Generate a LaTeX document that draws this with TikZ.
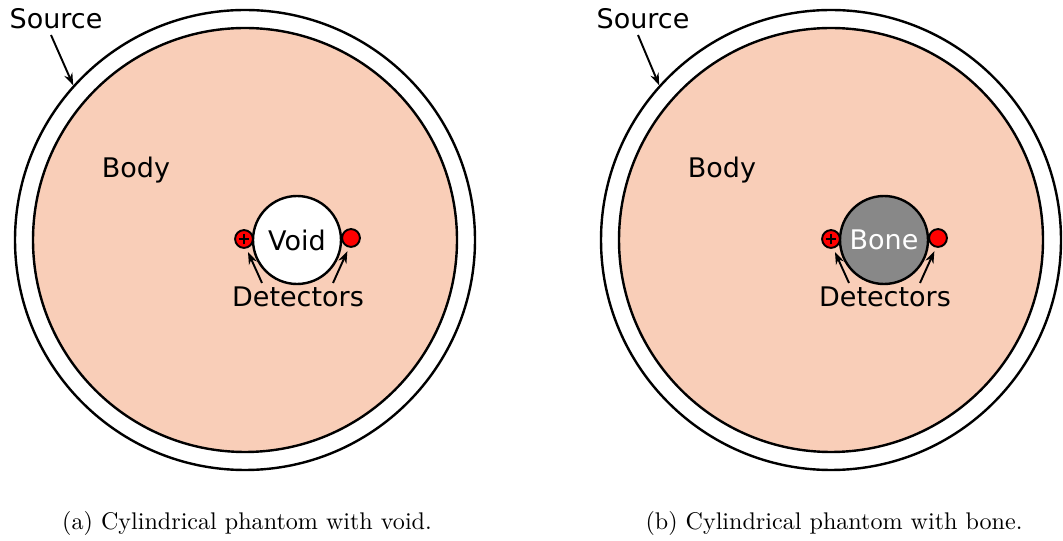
\documentclass[tikz,border=0pt]{standalone}
\usepackage{fontspec}
\newfontfamily\labelfont{DejaVu Sans}
\usetikzlibrary{arrows.meta,calc}
\definecolor{tissue}{RGB}{249,206,184}
\definecolor{bonegray}{RGB}{136,136,136}
\definecolor{detred}{RGB}{255,0,0}
\tikzset{
  ring/.style={circle,draw=black,line width=1pt,inner sep=0pt},
  detector/.style={circle,draw=black,fill=detred,line width=0.8pt,inner sep=0pt,minimum size=7.4pt},
  lbl/.style={font=\labelfont\fontsize{11.2}{13}\selectfont,inner sep=0pt},
  captext/.style={font=\fontsize{10}{12}\selectfont,inner sep=0pt},
  pointer/.style={-{Stealth[length=5pt,width=3.6pt]},line width=0.8pt},
}
\begin{document}
\begin{tikzpicture}[x=0.415pt,y=-0.415pt]
\useasboundingbox (0,0) rectangle (1063,541);

% ---- (a) phantom with a void ----
\node[ring,minimum size={460*0.415pt}] (srcA) at (245,240) {};
\node[ring,fill=tissue,minimum size={424*0.415pt}] (bodyA) at (245,240) {};
\node[ring,fill=white,minimum size={88*0.415pt},lbl] (voidA) at (297,240) {Void};
\node[detector] (dLA) at (244,239) {};
\node[detector] (dRA) at (351,238) {};
\draw[line width=0.6pt] ($(dLA)+(-2.2pt,0)$) -- ($(dLA)+(2.2pt,0)$)
      ($(dLA)+(0,-2.2pt)$) -- ($(dLA)+(0,2.2pt)$);
\node[lbl] (srcLblA) at (56,19) {Source};
\node[lbl] (bodyLblA) at (136,170) {Body};
\node[lbl] (detLblA) at (298,297) {Detectors};
\coordinate (tLA) at (262,283);
\coordinate (tRA) at (333,283);
\coordinate (tSA) at (51,35);
\draw[pointer] (tSA) -- (srcA.138);
\draw[pointer,shorten >=1.6pt] (tLA) -- (dLA.-76);
\draw[pointer,shorten >=1.6pt] (tRA) -- (dRA.-102);
\node[captext] (capA) at (247,523) {(a) Cylindrical phantom with void.};

% ---- (b) phantom with a bone ----
\node[ring,minimum size={460*0.415pt}] (srcB) at (831,240) {};
\node[ring,fill=tissue,minimum size={424*0.415pt}] (bodyB) at (831,240) {};
\node[ring,fill=bonegray,minimum size={88*0.415pt},lbl,text=white] (boneB) at (884,240) {Bone};
\node[detector] (dLB) at (831,239) {};
\node[detector] (dRB) at (938,238) {};
\draw[line width=0.6pt] ($(dLB)+(-2.2pt,0)$) -- ($(dLB)+(2.2pt,0)$)
      ($(dLB)+(0,-2.2pt)$) -- ($(dLB)+(0,2.2pt)$);
\node[lbl] (srcLblB) at (643,19) {Source};
\node[lbl] (bodyLblB) at (722,170) {Body};
\node[lbl] (detLblB) at (885,297) {Detectors};
\coordinate (tLB) at (849,283);
\coordinate (tRB) at (920,283);
\coordinate (tSB) at (638,35);
\draw[pointer] (tSB) -- (srcB.138);
\draw[pointer,shorten >=1.6pt] (tLB) -- (dLB.-76);
\draw[pointer,shorten >=1.6pt] (tRB) -- (dRB.-102);
\node[captext] (capB) at (834,523) {(b) Cylindrical phantom with bone.};
\end{tikzpicture}
\end{document}
